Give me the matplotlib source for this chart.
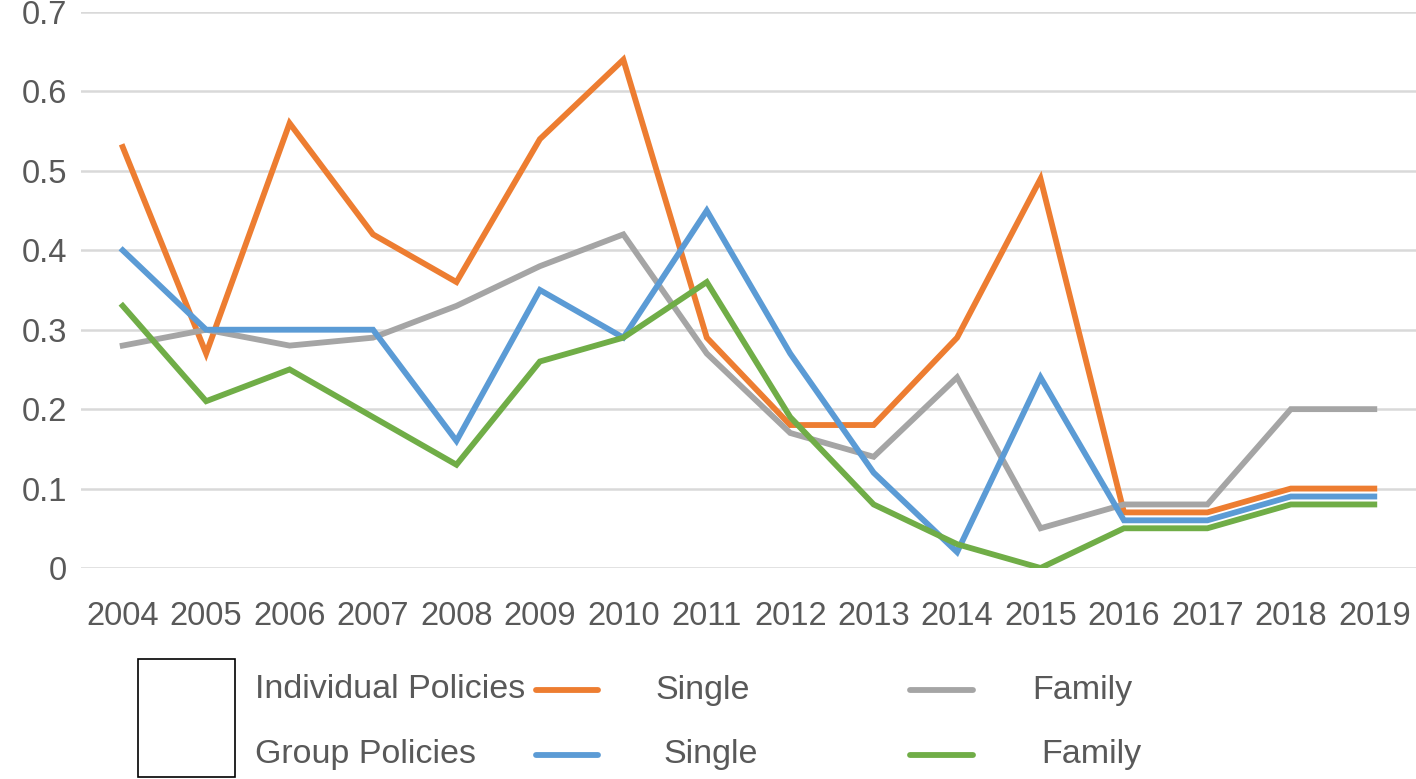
import matplotlib
matplotlib.use('Agg')
import matplotlib.pyplot as plt
from matplotlib.lines import Line2D
from matplotlib.patches import Rectangle

# data
years = [2004, 2005, 2006, 2007, 2008, 2009, 2010, 2011,
         2012, 2013, 2014, 2015, 2016, 2017, 2018, 2019]
ind_single = [0.53, 0.27, 0.56, 0.42, 0.36, 0.54, 0.64, 0.29,
              0.18, 0.18, 0.29, 0.49, 0.07, 0.07, 0.10, 0.10]
ind_family = [0.28, 0.30, 0.28, 0.29, 0.33, 0.38, 0.42, 0.27,
              0.17, 0.14, 0.24, 0.05, 0.08, 0.08, 0.20, 0.20]
grp_single = [0.40, 0.30, 0.30, 0.30, 0.16, 0.35, 0.29, 0.45,
              0.27, 0.12, 0.02, 0.24, 0.06, 0.06, 0.09, 0.09]
grp_family = [0.33, 0.21, 0.25, 0.19, 0.13, 0.26, 0.29, 0.36,
              0.19, 0.08, 0.03, 0.00, 0.05, 0.05, 0.08, 0.08]
yticks = [0, 0.1, 0.2, 0.3, 0.4, 0.5, 0.6, 0.7]

ORANGE, GRAY, BLUE, GREEN = '#ED7D31', '#A5A5A5', '#5B9BD5', '#70AD47'
TXT = '#595959'

plt.rcParams['font.family'] = ['Liberation Sans', 'DejaVu Sans']

W, H = 1416, 779
fig = plt.figure(figsize=(W / 100, H / 100), dpi=100)
ax = fig.add_axes([81 / W, (H - 568) / H, (W - 81) / W, 556 / H])

x = list(range(len(years)))
lw = 4.2
ax.plot(x, ind_single, color=ORANGE, lw=lw, solid_joinstyle='miter', zorder=3)
ax.plot(x, ind_family, color=GRAY, lw=lw, solid_joinstyle='miter', zorder=3)
ax.plot(x, grp_single, color=BLUE, lw=lw, solid_joinstyle='miter', zorder=3)
ax.plot(x, grp_family, color=GREEN, lw=lw, solid_joinstyle='miter', zorder=3)

ax.set_xlim(-0.5, len(years) - 0.5)
ax.set_ylim(0, 0.7)
ax.set_yticks(yticks)
ax.set_yticklabels(['0' if v == 0 else f'{v:.1f}' for v in yticks])
ax.set_xticks(x)
ax.set_xticklabels([str(y) for y in years])
ax.grid(axis='y', color='#D9D9D9', lw=1.8, zorder=0)
ax.set_axisbelow(True)
for s in ax.spines.values():
    s.set_visible(False)
ax.tick_params(axis='both', length=0, labelsize=23.5, labelcolor=TXT)
ax.tick_params(axis='y', pad=10)
ax.tick_params(axis='x', pad=24)

# custom legend block below the chart
def fx(px):
    return px / W

def fy(py):
    return (H - py) / H

fig.add_artist(Rectangle((fx(138), fy(777)), fx(235) - fx(138), fy(659) - fy(777),
                         transform=fig.transFigure, fill=False, ec='black', lw=1.2))
rows = [(690, 'Individual Policies', ORANGE, 655, GRAY, 1032),
        (755, 'Group Policies', BLUE, 663, GREEN, 1041)]
for py, name, c1, sx, c2, fxp in rows:
    fig.text(fx(255), fy(py), name, fontsize=24.5, color=TXT, va='center', ha='left')
    fig.add_artist(Line2D([fx(536), fx(598)], [fy(py), fy(py)], transform=fig.transFigure,
                          color=c1, lw=lw, solid_capstyle='round'))
    fig.text(fx(sx), fy(py), 'Single', fontsize=24.5, color=TXT, va='center', ha='left')
    fig.add_artist(Line2D([fx(910), fx(973)], [fy(py), fy(py)], transform=fig.transFigure,
                          color=c2, lw=lw, solid_capstyle='round'))
    fig.text(fx(fxp), fy(py), 'Family', fontsize=24.5, color=TXT, va='center', ha='left')

fig.savefig('out.png', dpi=100, facecolor='white')
